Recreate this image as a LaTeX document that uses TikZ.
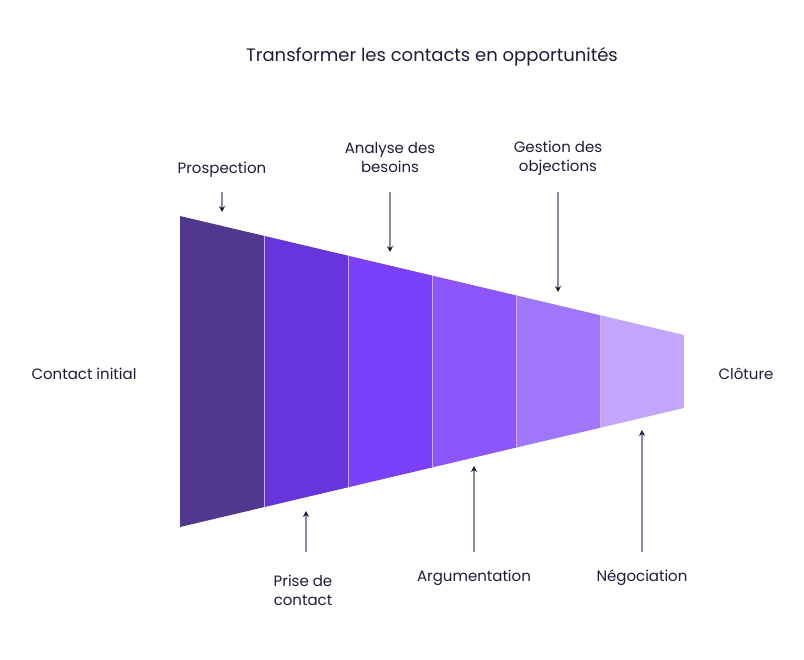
\documentclass[tikz,border=0pt]{standalone}
\usepackage{fontspec}
\setmainfont{Poppins}
\usetikzlibrary{arrows.meta}
\definecolor{txt}{HTML}{1E1B3A}
\definecolor{ln}{HTML}{8A8AA0}
\begin{document}
\begin{tikzpicture}[x=1pt,y=-1pt,
  lab/.style={text=txt,font=\fontsize{15}{19}\selectfont,align=center},
  pointer/.style={ln,line width=1.3pt,-{Stealth[length=6pt,width=6pt,color=txt]}}]
\useasboundingbox (0,0) rectangle (804,660);
\node[text=txt,font=\fontsize{18}{22}\selectfont] (title) at (432,57) {Transformer les contacts en opportunités};
\begin{scope}
\clip (180,216) -- (684,335) -- (684,408) -- (180,527) -- cycle;
\fill[fill=black!0!white,color=white] (0,0) rectangle (1,1);
\fill[fill={rgb,255:red,82;green,55;blue,145}] (180,200) rectangle (264,540);
\fill[fill={rgb,255:red,103;green,53;blue,220}] (264,200) rectangle (348,540);
\fill[fill={rgb,255:red,123;green,64;blue,250}] (348,200) rectangle (432,540);
\fill[fill={rgb,255:red,141;green,86;blue,252}] (432,200) rectangle (516,540);
\fill[fill={rgb,255:red,160;green,118;blue,252}] (516,200) rectangle (600,540);
\fill[fill={rgb,255:red,195;green,165;blue,253}] (600,200) rectangle (684,540);
\foreach \x in {264,348,432,516,600} \draw[white!70!violet,line width=1pt] (\x,200) -- (\x,540);
\end{scope}
\node[lab] (c0) at (84,374) {Contact initial};
\node[lab] (c6) at (746,374) {Clôture};
\node[lab] (p1) at (222,170) {Prospection};
\node[lab] (p3) at (390,158) {Analyse des\\besoins};
\node[lab] (p5) at (558,158) {Gestion des\\objections};
\node[lab] (p2) at (303,590) {Prise de\\contact};
\node[lab] (p4) at (474,578) {Argumentation};
\node[lab] (p6) at (642,578) {Négociation};
\coordinate (a1) at (222,212); \coordinate (a3) at (390,252); \coordinate (a5) at (558,292);
\coordinate (a2) at (306,511); \coordinate (a4) at (474,466); \coordinate (a6) at (642,430);
\draw[pointer] (222,192) -- (a1);
\draw[pointer] (390,192) -- (a3);
\draw[pointer] (558,192) -- (a5);
\draw[pointer] (306,552) -- (a2);
\draw[pointer] (474,552) -- (a4);
\draw[pointer] (642,552) -- (a6);
\end{tikzpicture}
\end{document}
